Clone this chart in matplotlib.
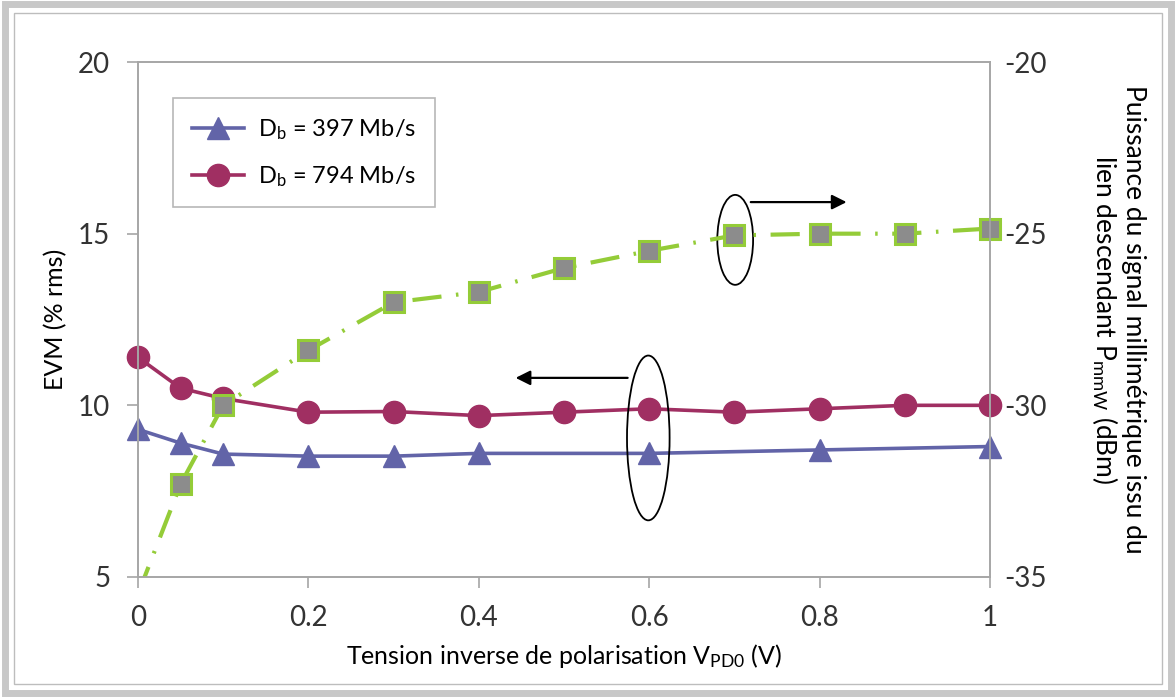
import numpy as np
import matplotlib.pyplot as plt
from matplotlib.patches import Ellipse, Rectangle

plt.rcParams['font.family'] = ['Lato', 'DejaVu Sans']
plt.rcParams['mathtext.fontset'] = 'custom'
plt.rcParams['mathtext.rm'] = 'Lato'
plt.rcParams['mathtext.it'] = 'Lato:italic'
plt.rcParams['axes.unicode_minus'] = False

# data
x_397 = [0, 0.05, 0.1, 0.2, 0.3, 0.4, 0.6, 0.8, 1.0]
evm_397 = [9.3, 8.9, 8.58, 8.52, 8.52, 8.6, 8.6, 8.7, 8.8]

x_794 = [0, 0.05, 0.1, 0.2, 0.3, 0.4, 0.5, 0.6, 0.7, 0.8, 0.9, 1.0]
evm_794 = [11.4, 10.5, 10.2, 9.8, 9.82, 9.7, 9.8, 9.9, 9.8, 9.9, 10.0, 10.0]

x_pow = [0, 0.05, 0.1, 0.2, 0.3, 0.4, 0.5, 0.6, 0.7, 0.8, 0.9, 1.0]
p_mmw = [-35.5, -32.3, -30.0, -28.4, -27.0, -26.7, -26.0, -25.5, -25.05, -25.0, -25.0, -24.85]

blue = '#6264a8'
red = '#a02f62'
green = '#94cc38'
grey = '#8c8c8c'
txt = '#333333'

fig = plt.figure(figsize=(11.76, 6.97), dpi=100)
ax = fig.add_axes([0.1173, 0.1722, 0.7245, 0.7388])
ax2 = ax.twinx()

ax.plot(x_397, evm_397, color=blue, lw=2.6, marker='^', ms=16, clip_on=False,
        label=r'D$_\mathrm{b}$ = 397 Mb/s')
ax.plot(x_794, evm_794, color=red, lw=2.6, marker='o', ms=16, clip_on=False,
        label=r'D$_\mathrm{b}$ = 794 Mb/s')
# green curve: line clipped at the axis, markers for the visible points
ax2.plot(x_pow, p_mmw, color=green, lw=3, dashes=[7, 3.5, 0.6, 3.5])
ax2.plot(x_pow[1:], p_mmw[1:], ls='none', marker='s', ms=14, mfc=grey,
         mec=green, mew=2.2, clip_on=False)

ax.set_xlim(0, 1)
ax.set_ylim(5, 20)
ax2.set_ylim(-35, -20)
ax.set_xticks([0, 0.2, 0.4, 0.6, 0.8, 1.0])
ax.set_xticklabels(['0', '0.2', '0.4', '0.6', '0.8', '1'])
ax.set_yticks([5, 10, 15, 20])
ax2.set_yticks([-35, -30, -25, -20])

for a in (ax, ax2):
    for s in a.spines.values():
        s.set_color('#a6a6a6')
        s.set_linewidth(1.2)
ax.tick_params(axis='x', labelsize=20, colors='#a6a6a6', labelcolor=txt,
               length=8, width=1.2, pad=12)
ax.tick_params(axis='y', labelsize=20, colors='#a6a6a6', labelcolor=txt,
               length=8, width=1.2, pad=12)
ax2.tick_params(axis='y', labelsize=20, colors='#a6a6a6', labelcolor=txt,
                length=0, pad=10)

ax.set_xlabel(r'Tension inverse de polarisation V$_\mathrm{PD0}$ (V)',
              fontsize=18, color='black', labelpad=8)
ax.set_ylabel('EVM (% rms)', fontsize=18, color='black', labelpad=8)
ax2.set_ylabel('Puissance du signal millimétrique issu du\n'
               r'lien descendant P$_\mathrm{mmW}$ (dBm)',
               fontsize=19, color='black', rotation=-90, labelpad=72,
               linespacing=1.05)

leg = ax.legend(loc='upper left', bbox_to_anchor=(0.041, 0.93), fontsize=17,
                frameon=True, fancybox=False, edgecolor='#a6a6a6',
                borderaxespad=0, borderpad=0.8, labelspacing=0.95,
                handlelength=2.2, handletextpad=0.6)
leg.get_frame().set_linewidth(1.2)

# annotations: ellipses and arrows
ax.add_patch(Ellipse((0.701, 14.82), 0.042, 2.62, fill=False, color='black', lw=1.3))
ax.annotate('', xy=(0.835, 15.92), xytext=(0.716, 15.92),
            arrowprops=dict(arrowstyle='-|>', color='black', lw=1.6, mutation_scale=22))
ax.add_patch(Ellipse((0.599, 9.05), 0.05, 4.8, fill=False, color='black', lw=1.3, zorder=5))
ax.annotate('', xy=(0.44, 10.8), xytext=(0.578, 10.8),
            arrowprops=dict(arrowstyle='-|>', color='black', lw=1.6, mutation_scale=22))

# outer chart frame
fig.patches.append(Rectangle((0.004, 0.006), 0.992, 0.988, transform=fig.transFigure,
                             fill=False, edgecolor='#c8c8c8', lw=5))
fig.patches.append(Rectangle((0.012, 0.019), 0.976, 0.962, transform=fig.transFigure,
                             fill=False, edgecolor='#bdbdbd', lw=1))

fig.savefig('out.png', dpi=100)
